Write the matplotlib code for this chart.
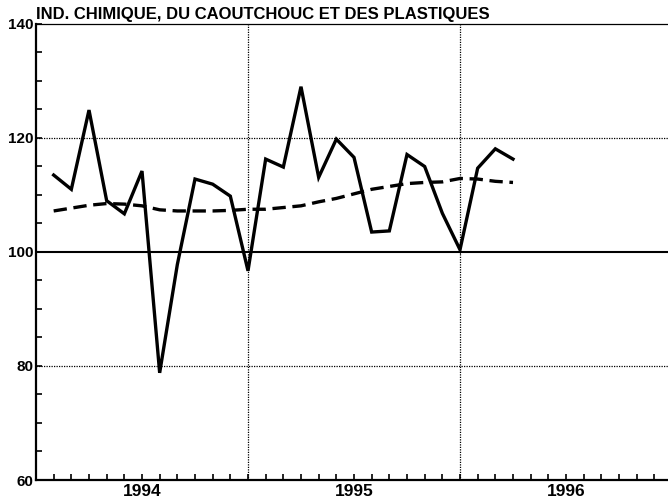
import numpy as np
from matplotlib import pyplot as plt
from matplotlib.ticker import FixedLocator, NullFormatter

# monthly index, Feb 1994 .. Apr 1996
months = np.arange(1, 28)
x = 1994 + months / 12.0

indice = [113.5, 111.0, 124.9, 109.0, 106.7, 114.2, 78.8, 97.8, 112.8, 111.9,
          109.8, 96.7, 116.3, 114.9, 129.0, 113.1, 119.8, 116.6, 103.5, 103.7,
          117.1, 115.0, 106.8, 100.4, 114.7, 118.1, 116.3]
tendance = [107.2, 107.7, 108.2, 108.5, 108.4, 108.1, 107.4, 107.2, 107.2, 107.2,
            107.3, 107.5, 107.5, 107.8, 108.1, 108.8, 109.4, 110.2, 111.0, 111.5,
            112.0, 112.2, 112.3, 112.9, 112.8, 112.4, 112.2]

years = [1994, 1995, 1996]
title = "IND. CHIMIQUE, DU CAOUTCHOUC ET DES PLASTIQUES"

plt.rcParams['font.family'] = ['Liberation Sans', 'DejaVu Sans']

fig = plt.figure(figsize=(6.68, 5.03), dpi=100)
ax = fig.add_axes([36 / 668, 23 / 503, 1 - 36 / 668, 456 / 503])

ax.set_xlim(1994, 1994 + (668 - 36) / 212)
ax.set_ylim(60, 140)

# reference lines
for v in [80, 120]:
    ax.axhline(v, color='black', lw=0.9, ls=(0, (1, 1)), zorder=1)
ax.axhline(100, color='black', lw=1.5, zorder=1)
for yr in years[1:]:
    ax.axvline(yr, color='black', lw=0.9, ls=(0, (1, 1)), zorder=1)

ax.plot(x, indice, color='black', lw=2.4, solid_joinstyle='miter', zorder=3)
ax.plot(x, tendance, color='black', lw=2.4, dashes=(4, 2), zorder=3)

# spines
ax.spines['right'].set_visible(False)
ax.spines['top'].set_linestyle((0, (1, 1)))
ax.spines['top'].set_linewidth(0.9)
ax.spines['left'].set_linewidth(1.6)
ax.spines['bottom'].set_linewidth(1.6)

# y ticks
ax.set_yticks([60, 80, 100, 120, 140])
ax.yaxis.set_minor_locator(FixedLocator(np.arange(60, 141, 5)))
ax.tick_params(axis='y', which='both', direction='in', length=4, width=1.2,
               labelsize=11, pad=2)
for lbl in ax.get_yticklabels():
    lbl.set_fontweight('bold')

# x ticks: monthly marks, year labels centred
ax.xaxis.remove_overlapping_locs = False
ax.xaxis.set_major_locator(FixedLocator([1994 + m / 12 for m in range(0, 37)]))
ax.xaxis.set_major_formatter(NullFormatter())
ax.xaxis.set_minor_locator(FixedLocator([yr + 0.5 for yr in years]))
ax.set_xticklabels([str(yr) for yr in years], minor=True, fontsize=12.5,
                   fontweight='bold')
ax.tick_params(axis='x', which='major', direction='in', length=4, width=1.2)
ax.tick_params(axis='x', which='minor', length=0, pad=3)

ax.text(0.0, 1.005, title, transform=ax.transAxes, fontsize=12,
        fontweight='bold', ha='left', va='bottom')

fig.savefig('out.png', dpi=100)
